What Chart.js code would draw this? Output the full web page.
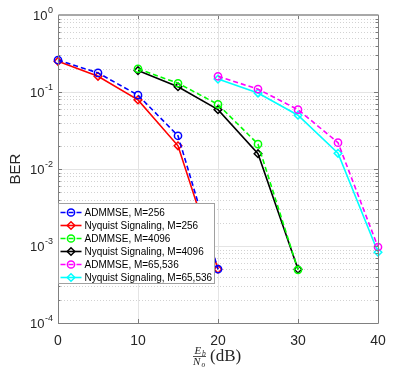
<!DOCTYPE html>
<html>
<head>
<meta charset="utf-8">
<script src="https://cdn.jsdelivr.net/npm/chart.js@4.4.1/dist/chart.umd.min.js"></script>
<style>
html, body { margin: 0; padding: 0; background: #fff; }
</style>
</head>
<body>
<canvas id="berChart" width="399" height="374"></canvas>
<script>
// Eb/No (dB) points for each modulation order
const snr256 = [0, 5, 10, 15, 20];
const snr4096 = [10, 15, 20, 25, 30];
const snr65536 = [20, 25, 30, 35, 40];

// BER values
const admmse256 = [0.26, 0.177, 0.091, 0.027, 0.0005];
const nyquist256 = [0.25, 0.16, 0.079, 0.020, 0.0005];
const admmse4096 = [0.20, 0.13, 0.069, 0.021, 0.00049];
const nyquist4096 = [0.19, 0.117, 0.059, 0.0158, 0.0005];
const admmse65536 = [0.16, 0.109, 0.059, 0.022, 0.00097];
const nyquist65536 = [0.147, 0.097, 0.050, 0.016, 0.00083];

// axes
const xTicks = [0, 10, 20, 30, 40];
const yTickExps = [0, -1, -2, -3, -4];

const AXIS_TEXT = '#262626';

function pts(xs, ys) {
    return xs.map((x, i) => ({ x: x, y: ys[i] }));
}

function series(label, xs, ys, color, dashed) {
    return {
        label: label,
        data: pts(xs, ys),
        borderColor: color,
        backgroundColor: 'rgba(0,0,0,0)',
        borderWidth: 1.6,
        borderDash: dashed ? [5, 3] : [],
        pointStyle: dashed ? 'circle' : 'rectRot',
        pointRadius: dashed ? 3.6 : 3.8,
        pointBorderWidth: 1.5,
        pointBorderColor: color,
        pointBackgroundColor: 'rgba(0,0,0,0)',
        tension: 0,
        clip: false
    };
}

function strokeLine(ctx, x1, y1, x2, y2) {
    ctx.beginPath();
    ctx.moveTo(x1, y1);
    ctx.lineTo(x2, y2);
    ctx.stroke();
}

function drawMarker(ctx, style, x, y, r) {
    ctx.beginPath();
    if (style === 'circle') {
        ctx.arc(x, y, r, 0, Math.PI * 2);
    } else {
        ctx.moveTo(x, y - r);
        ctx.lineTo(x + r, y);
        ctx.lineTo(x, y + r);
        ctx.lineTo(x - r, y);
        ctx.closePath();
    }
    ctx.stroke();
}

// grid, box, ticks, legend and axis titles in MATLAB style
const matlabPlugin = {
    id: 'matlabStyle',
    beforeDatasetsDraw(chart) {
        const { ctx, chartArea: a, scales: { x, y } } = chart;
        ctx.save();
        ctx.lineWidth = 1;

        // minor y grid (dotted)
        ctx.strokeStyle = '#d2d2d2';
        ctx.setLineDash([1, 2]);
        for (let e = -4; e < 0; e++) {
            for (let k = 2; k <= 9; k++) {
                const py = Math.round(y.getPixelForValue(k * Math.pow(10, e))) + 0.5;
                strokeLine(ctx, a.left, py, a.right, py);
            }
        }
        ctx.setLineDash([]);

        // major grid
        ctx.strokeStyle = '#e4e4e4';
        yTickExps.forEach(e => {
            const py = Math.round(y.getPixelForValue(Math.pow(10, e))) + 0.5;
            if (py > a.top + 1 && py < a.bottom - 1) strokeLine(ctx, a.left, py, a.right, py);
        });
        xTicks.forEach(v => {
            const px = Math.round(x.getPixelForValue(v)) + 0.5;
            if (px > a.left + 1 && px < a.right - 1) strokeLine(ctx, px, a.top, px, a.bottom);
        });
        ctx.restore();
    },
    afterDatasetsDraw(chart) {
        const { ctx, chartArea: a, scales: { x, y } } = chart;
        ctx.save();
        ctx.lineWidth = 1;

        // tick marks (inward, both sides)
        ctx.strokeStyle = '#7a7a7a';
        for (let e = -4; e <= 0; e++) {
            for (let k = 1; k <= 9; k++) {
                if (e === 0 && k > 1) break;
                const py = Math.round(y.getPixelForValue(k * Math.pow(10, e))) + 0.5;
                const len = k === 1 ? 4 : 2.5;
                strokeLine(ctx, a.left, py, a.left + len, py);
                strokeLine(ctx, a.right, py, a.right - len, py);
            }
        }
        xTicks.forEach(v => {
            const px = Math.round(x.getPixelForValue(v)) + 0.5;
            strokeLine(ctx, px, a.bottom, px, a.bottom - 4);
            strokeLine(ctx, px, a.top, px, a.top + 4);
        });

        // box
        const L = Math.round(a.left) + 0.5, R = Math.round(a.right) + 0.5;
        const T = Math.round(a.top) + 0.5, B = Math.round(a.bottom) + 0.5;
        ctx.strokeStyle = '#a8a8a8';
        ctx.lineWidth = 2;
        strokeLine(ctx, L, T - 0.5, R, T - 0.5);
        ctx.lineWidth = 1;
        ctx.strokeStyle = '#808080';
        strokeLine(ctx, R, T, R, B);
        strokeLine(ctx, L, T, L, B);
        strokeLine(ctx, L, B, R, B);

        // legend
        const lx = L, ly = 203.5, lw = 156, lh = 80;
        ctx.fillStyle = '#ffffff';
        ctx.fillRect(lx, ly, lw, lh);
        ctx.strokeStyle = '#a0a0a0';
        ctx.strokeRect(lx, ly, lw, lh);
        ctx.font = '10px "Liberation Sans", Arial, sans-serif';
        ctx.textBaseline = 'middle';
        chart.data.datasets.forEach((ds, i) => {
            const ry = ly + 9 + i * 13;
            ctx.strokeStyle = ds.borderColor;
            ctx.lineWidth = 1.6;
            ctx.setLineDash(ds.borderDash);
            strokeLine(ctx, lx + 2, ry, lx + 23, ry);
            ctx.setLineDash([]);
            ctx.lineWidth = 1.5;
            drawMarker(ctx, ds.pointStyle, lx + 12.5, ry, ds.pointRadius);
            ctx.fillStyle = '#000000';
            ctx.textAlign = 'left';
            ctx.fillText(ds.label, lx + 26, ry + 0.5);
        });

        // y tick labels 10^n
        ctx.fillStyle = AXIS_TEXT;
        ctx.textBaseline = 'alphabetic';
        yTickExps.forEach(e => {
            const py = y.getPixelForValue(Math.pow(10, e));
            const exp = String(e);
            ctx.font = '9px "Liberation Sans", Arial, sans-serif';
            const ew = ctx.measureText(exp).width;
            ctx.textAlign = 'right';
            ctx.fillText(exp, 53, py - 2);
            ctx.font = '13px "Liberation Sans", Arial, sans-serif';
            ctx.fillText('10', 53 - ew - 0.5, py + 5);
        });

        // y title
        ctx.save();
        ctx.translate(16, (a.top + a.bottom) / 2);
        ctx.rotate(-Math.PI / 2);
        ctx.font = '15px "Liberation Sans", Arial, sans-serif';
        ctx.textAlign = 'center';
        ctx.textBaseline = 'middle';
        ctx.fillStyle = AXIS_TEXT;
        ctx.fillText('BER', 0, 0);
        ctx.restore();

        // x title: Eb/No (dB)
        ctx.fillStyle = AXIS_TEXT;
        ctx.textAlign = 'left';
        ctx.textBaseline = 'alphabetic';
        const fx = 193;
        ctx.font = 'italic 11px "Liberation Serif", "DejaVu Serif", serif';
        ctx.fillText('E', fx + 1.5, 353.5);
        ctx.fillText('N', fx, 364.5);
        ctx.font = 'italic 7.5px "Liberation Serif", "DejaVu Serif", serif';
        ctx.fillText('b', fx + 9, 355.5);
        ctx.fillText('o', fx + 8.5, 366.5);
        ctx.strokeStyle = AXIS_TEXT;
        ctx.lineWidth = 0.8;
        strokeLine(ctx, fx, 356.5, fx + 13, 356.5);
        ctx.font = '17px "Liberation Serif", "DejaVu Serif", serif';
        ctx.fillText('(dB)', 210, 361);

        ctx.restore();
    }
};

new Chart(document.getElementById('berChart'), {
    type: 'line',
    data: {
        datasets: [
            series('ADMMSE, M=256', snr256, admmse256, '#0000ff', true),
            series('Nyquist Signaling, M=256', snr256, nyquist256, '#ff0000', false),
            series('ADMMSE, M=4096', snr4096, admmse4096, '#00ff00', true),
            series('Nyquist Signaling, M=4096', snr4096, nyquist4096, '#000000', false),
            series('ADMMSE, M=65,536', snr65536, admmse65536, '#ff00ff', true),
            series('Nyquist Signaling, M=65,536', snr65536, nyquist65536, '#00ffff', false)
        ]
    },
    options: {
        responsive: false,
        animation: false,
        devicePixelRatio: 1,
        layout: { padding: { top: 15, right: 21, left: 0, bottom: 0 } },
        plugins: {
            legend: { display: false },
            tooltip: { enabled: false }
        },
        scales: {
            x: {
                type: 'linear',
                min: 0,
                max: 40,
                grid: { display: false, drawTicks: false },
                border: { display: false },
                afterBuildTicks: scale => { scale.ticks = xTicks.map(v => ({ value: v })); },
                afterFit: scale => { scale.height = 51; },
                ticks: {
                    padding: 10,
                    maxRotation: 0,
                    color: AXIS_TEXT,
                    font: { family: '"Liberation Sans", Arial, sans-serif', size: 14 }
                }
            },
            y: {
                type: 'logarithmic',
                min: 1e-4,
                max: 1,
                grid: { display: false, drawTicks: false },
                border: { display: false },
                ticks: { display: false },
                afterFit: scale => { scale.width = 58; }
            }
        }
    },
    plugins: [matlabPlugin]
});
</script>
</body>
</html>
